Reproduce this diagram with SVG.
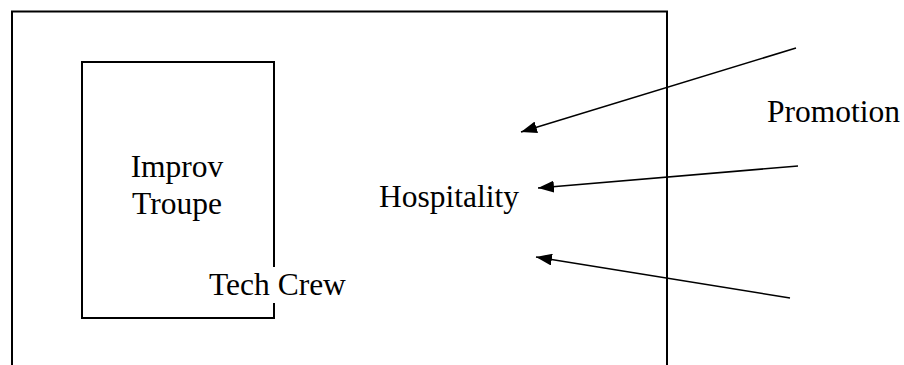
<svg xmlns="http://www.w3.org/2000/svg" width="904" height="365" viewBox="0 0 904 365">
<style>
.frame{fill:none;stroke:#000;stroke-width:2}
.lbl{font-family:"Liberation Serif","Times New Roman",serif;font-size:31.5px;fill:#000}
.conn{stroke:#000;stroke-width:1.6;fill:none;marker-end:url(#ah)}
</style>
<defs>
<marker id="ah" markerUnits="userSpaceOnUse" markerWidth="18" markerHeight="12" refX="16" refY="6" orient="auto">
<path d="M0,0 L16,6 L0,12 z" fill="#000"/>
</marker>
</defs>
<rect width="904" height="365" fill="#fff"/>
<g id="outer">
<path class="frame" d="M12,366 V11.5 H667 V366"/>
</g>
<g id="improv">
<rect class="frame" x="82" y="62" width="192" height="256"/>
<text class="lbl" x="177" y="177" text-anchor="middle">Improv</text>
<text class="lbl" x="177" y="214" text-anchor="middle">Troupe</text>
</g>
<g id="techcrew">
<rect x="206" y="267" width="142" height="36" fill="#fff"/>
<text class="lbl" x="209" y="295">Tech Crew</text>
</g>
<g id="hospitality">
<text class="lbl" x="379" y="207">Hospitality</text>
</g>
<g id="promotion">
<text class="lbl" x="767" y="122">Promotion</text>
</g>
<g id="connectors">
<line class="conn" x1="796" y1="48" x2="521" y2="132"/>
<line class="conn" x1="798" y1="166" x2="538" y2="188"/>
<line class="conn" x1="790" y1="298" x2="536" y2="257"/>
</g>
</svg>
